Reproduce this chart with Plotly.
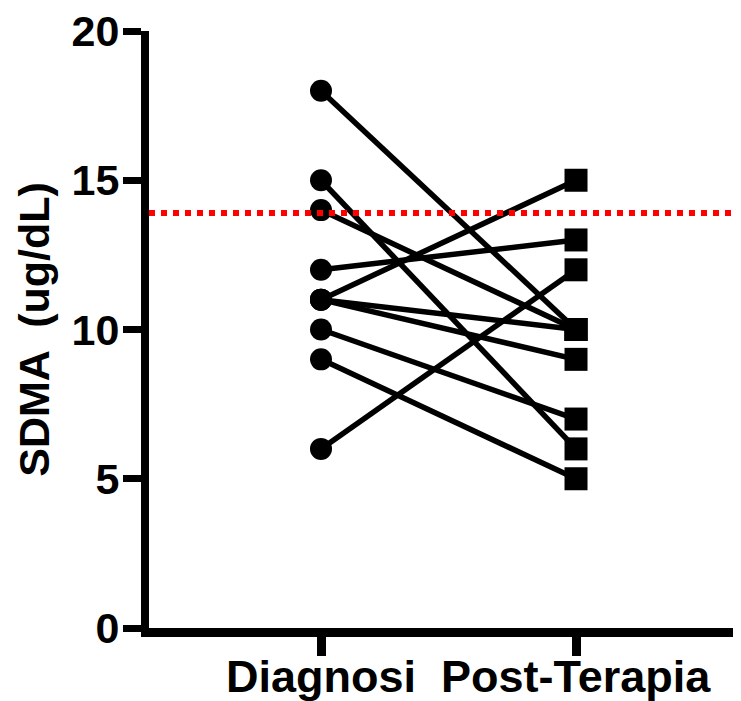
import plotly.graph_objects as go

groups = ["Diagnosi", "Post-Terapia"]
diagnosi = [18, 15, 14, 12, 11, 11, 11, 10, 9, 6]
post_terapia = [10, 6, 10, 13, 15, 10, 9, 7, 5, 12]
threshold = 13.9
y_ticks = [0, 5, 10, 15, 20]

FONT = "Liberation Sans, Arial, sans-serif"

fig = go.Figure()

# paired lines
for d, p in zip(diagnosi, post_terapia):
    fig.add_trace(go.Scatter(
        x=groups, y=[d, p], mode="lines",
        line=dict(color="black", width=5.5),
        showlegend=False, hoverinfo="skip"))

fig.add_trace(go.Scatter(
    x=[groups[0]] * len(diagnosi), y=diagnosi, mode="markers",
    marker=dict(symbol="circle", size=22, color="black"),
    showlegend=False))
fig.add_trace(go.Scatter(
    x=[groups[1]] * len(post_terapia), y=post_terapia, mode="markers",
    marker=dict(symbol="square", size=23, color="black"),
    showlegend=False))

fig.add_shape(type="line", xref="paper", x0=0, x1=1, yref="y",
              y0=threshold, y1=threshold, layer="above",
              line=dict(color="#ff0000", width=6, dash="dot"))

# category labels placed closer to the axis than the default tick labels
for g in groups:
    fig.add_annotation(x=g, xref="x", y=0, yref="paper", yanchor="top",
                       yshift=-22, showarrow=False, text=g, borderpad=0,
                       font=dict(size=45, family=FONT, weight="bold", color="black"))

fig.update_layout(
    width=733, height=693,
    margin=dict(l=141, r=0, t=23, b=73, pad=0, autoexpand=False),
    plot_bgcolor="white", paper_bgcolor="white",
    font=dict(family=FONT, color="black"),
    xaxis=dict(
        type="category", categoryorder="array", categoryarray=groups,
        range=[-0.6745, 1.647], automargin=False, showticklabels=False,
        showline=True, linecolor="black", linewidth=9,
        ticks="outside", ticklen=19, tickwidth=9, tickcolor="black",
        showgrid=False, zeroline=False,
    ),
    yaxis=dict(
        range=[0, 20], tickvals=y_ticks, automargin=True,
        ticklabeloverflow="allow", ticklabelstandoff=-5,
        showline=True, linecolor="black", linewidth=8,
        ticks="outside", ticklen=18, tickwidth=7, tickcolor="black",
        tickfont=dict(size=43, family=FONT, weight="bold", color="black"),
        showgrid=False, zeroline=False,
        title=dict(text="SDMA  (ug/dL)", standoff=12,
                   font=dict(size=43, family=FONT, weight="bold", color="black")),
    ),
)

fig.write_html("out.html")
